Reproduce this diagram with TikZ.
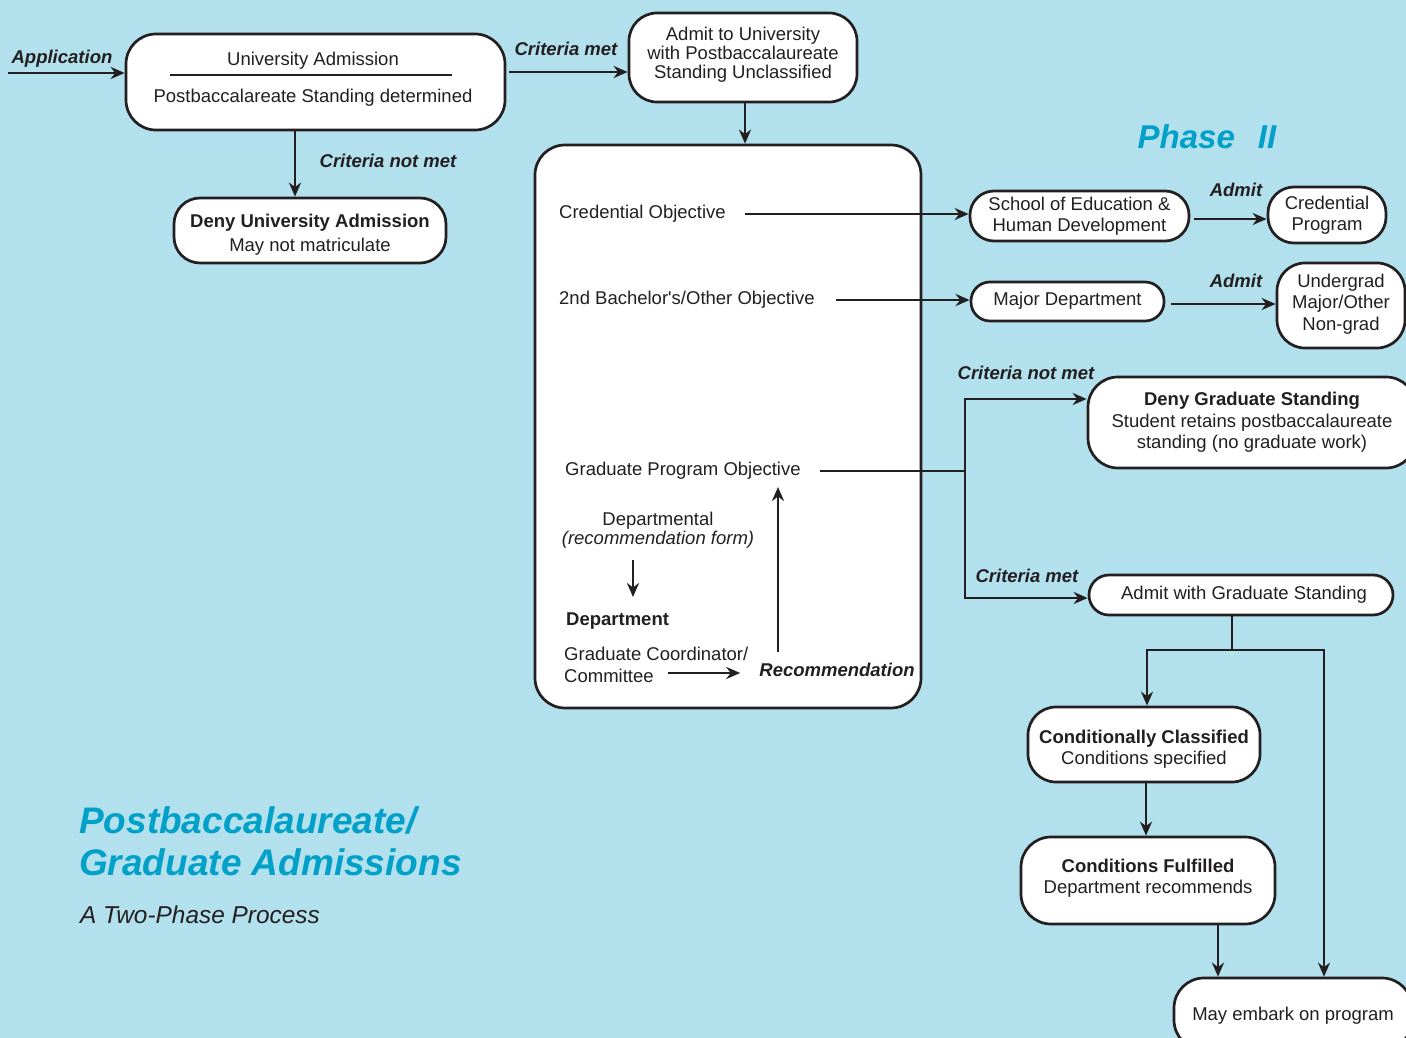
\documentclass[tikz,border=0pt]{standalone}
\usepackage{fontspec}
\setmainfont{Liberation Sans}
\usetikzlibrary{arrows.meta}
\definecolor{bgblue}{RGB}{178,224,237}
\definecolor{ink}{RGB}{35,31,32}
\definecolor{titleblue}{RGB}{0,160,200}
\newcommand\fnorm{\fontsize{18.5}{21.5}\selectfont}
\newcommand\fadm{\fontsize{18.5}{19}\selectfont}
\newcommand\fdeny{\fontsize{18.5}{24}\selectfont}
\newcommand\flbl{\fontsize{18.5}{21.5}\selectfont\bfseries\itshape}
\newcommand\fphase{\fontsize{33}{36}\selectfont\bfseries\itshape}
\newcommand\ftitle{\fontsize{37}{42}\selectfont\bfseries\itshape}
\newcommand\fsubt{\fontsize{24.4}{28}\selectfont\itshape}
\begin{document}
\begin{tikzpicture}[x=1pt,y=-1pt,
  box/.style={draw=ink, fill=white, line width=2.7pt, rounded corners=#1, inner sep=0pt, align=center, font=\fnorm, text=ink},
  box/.default=28pt,
  arr/.style={draw=ink, line width=2.7pt, -{Stealth[length=14pt,width=12pt,inset=4.5pt]}},
  conn/.style={draw=ink, line width=2.7pt},
  lbl/.style={font=\flbl, inner sep=0pt, text=ink},
  txt/.style={font=\fnorm, inner sep=0pt, align=left, text=ink},
  ctxt/.style={font=\fnorm, inner sep=0pt, align=center, text=ink}]
\useasboundingbox (0,0) rectangle (1406,1038);
\clip (0,0) rectangle (1406,1038);
\fill[bgblue] (0,0) rectangle (1406,1038);

% ---- Phase I boxes
\node[box=30pt, minimum width=379pt, minimum height=96pt] (ua) at (315.5,82) {};
\node[txt] (ua1) at (313,61) {University Admission};
\node[txt] (ua2) at (313,98) {Postbaccalareate Standing determined};
\draw[conn] (170,75) -- (452,75);

\node[box=28pt, minimum width=228pt, minimum height=89pt] (adm) at (743,57.5) {};
\node[ctxt, font=\fadm] (admT) at (743,54.5)
  {Admit to University\\with Postbaccalaureate\\Standing Unclassified};

\node[box=26pt, minimum width=272pt, minimum height=65pt] (deny) at (310,230.5) {};
\node[ctxt, font=\fdeny] (denyT) at (310,234.5)
  {\bfseries Deny University Admission\\May not matriculate};

\node[box=30pt, minimum width=386pt, minimum height=563pt] (big) at (728,426.5) {};

% ---- texts inside big box
\node[txt, anchor=west] (credo) at (559,214) {Credential Objective};
\node[txt, anchor=west] (bach) at (559,300) {2nd Bachelor\textquotesingle s/Other Objective};
\node[txt, anchor=west] (gpo) at (565,471) {Graduate Program Objective};
\node[txt, align=center, font=\fadm] (dept) at (658,530) {Departmental\\{\itshape (recommendation form)}};
\node[txt, anchor=west, font=\fnorm\bfseries] (deptb) at (566,621) {Department};
\node[txt, anchor=west] (gc) at (564,665) {Graduate Coordinator/\\Committee};
\node[lbl] (rec) at (837,670) {Recommendation};

% ---- Phase II boxes
\node[box=24pt, minimum width=219pt, minimum height=50pt] (school) at (1079.5,216)
  {School of Education \&\\Human Development};
\node[box=26pt, minimum width=118pt, minimum height=56pt] (cred) at (1327,215)
  {Credential\\Program};
\node[box=19pt, minimum width=193pt, minimum height=39pt] (major) at (1067.5,301.5) {};
\node[ctxt] (majorT) at (1067.5,300.5) {Major Department};
\node[box=28pt, minimum width=128pt, minimum height=85pt] (under) at (1341,305.5) {};
\node[ctxt] (underT) at (1341,304) {Undergrad\\Major/Other\\Non-grad};
\node[box=30pt, minimum width=328pt, minimum height=91pt] (denyg) at (1252,422.5)
  {\bfseries Deny Graduate Standing\\Student retains postbaccalaureate\\standing (no graduate work)};
\node[box=20pt, minimum width=304pt, minimum height=40pt] (agrad) at (1241,595)
  {\hspace*{6pt}Admit with Graduate Standing};
\node[box=28pt, minimum width=232pt, minimum height=75pt] (cc) at (1144,744.5) {};
\node[ctxt] (ccT) at (1144,749) {\bfseries Conditionally Classified\\Conditions specified};
\node[box=30pt, minimum width=254pt, minimum height=87pt] (cf) at (1148,880.5) {};
\node[ctxt] (cfT) at (1148,878) {\bfseries Conditions Fulfilled\\Department recommends};
\node[box=30pt, minimum width=238pt, minimum height=72pt] (emb) at (1293,1014) {};
\node[ctxt] (embT) at (1293,1016) {May embark on program};

% ---- labels
\node[lbl] (lapp) at (62,59) {Application};
\node[lbl] (lcm) at (566,49) {Criteria met};
\node[lbl] (lcnm) at (388,161) {Criteria not met};
\node[lbl] (la1) at (1236,190) {Admit};
\node[lbl] (la2) at (1236,281) {Admit};
\node[lbl] (lcnm2) at (1026,373) {Criteria not met};
\node[lbl] (lcm2) at (1027,576) {Criteria met};

% ---- titles
\node[font=\fphase, text=titleblue, inner sep=0pt] (phase) at (1207,137) {Phase\hspace{0.7em}II};
\node[anchor=west, font=\ftitle, text=titleblue, align=left, inner sep=0pt] (title) at (79,841)
  {Postbaccalaureate/\\Graduate Admissions};
\node[anchor=west, font=\fsubt, text=ink, inner sep=0pt] (sub) at (80,915) {A Two-Phase Process};

% ---- coordinates
\coordinate (appstart) at (8,73);
\coordinate (cmstart) at (509,72);
\coordinate (jm) at (965,471);
\coordinate (jt) at (965,399);
\coordinate (jb) at (965,598);
\coordinate (jr) at (1232,650);
\coordinate (da) at (633,560);
\coordinate (db) at (633,597);
\coordinate (gca) at (668,673);
\coordinate (ra) at (778,652);
\coordinate (rb) at (778,487);

% ---- connectors
\draw[arr] (appstart) -- (appstart -| ua.west);
\draw[arr] (cmstart) -- (cmstart -| adm.west);
\draw[arr] ([xshift=2pt]adm.south) -- ([xshift=2pt]adm.south |- big.north);
\draw[arr] ([xshift=-20.5pt]ua.south) -- ([xshift=-20.5pt]ua.south |- deny.north);

\draw[arr] ([xshift=19pt]credo.east) -- (credo.east -| school.west);
\draw[arr] ([xshift=4pt,yshift=-3pt]school.east) -- ([yshift=-3pt]school.east -| cred.west);
\draw[arr] ([xshift=21pt]bach.east) -- (bach.east -| major.west);
\draw[arr] ([xshift=6pt,yshift=-2.5pt]major.east) -- ([yshift=-2.5pt]major.east -| under.west);

\draw[conn] ([xshift=19pt]gpo.east) -- (gpo.east -| jm);
\draw[arr] (jm) -- (jt) -- (jt -| denyg.west);
\draw[arr] (jm) -- (jb) -- (jb -| agrad.west);

\draw[conn] ([xshift=-9pt]agrad.south) -- (jr);
\draw[arr] (jr) -| ([xshift=3pt]cc.north);
\draw[arr] (jr) -| ([xshift=31pt]emb.north);
\draw[arr] ([xshift=2pt]cc.south) -- ([xshift=2pt]cc.south |- cf.north);
\draw[arr] ([xshift=70pt]cf.south) -- ([xshift=70pt]cf.south |- emb.north);

\draw[arr] (da) -- (db);
\draw[arr] (gca) -- ([xshift=-19pt]rec.west |- gca);
\draw[arr] (ra) -- (rb);
\end{tikzpicture}
\end{document}
